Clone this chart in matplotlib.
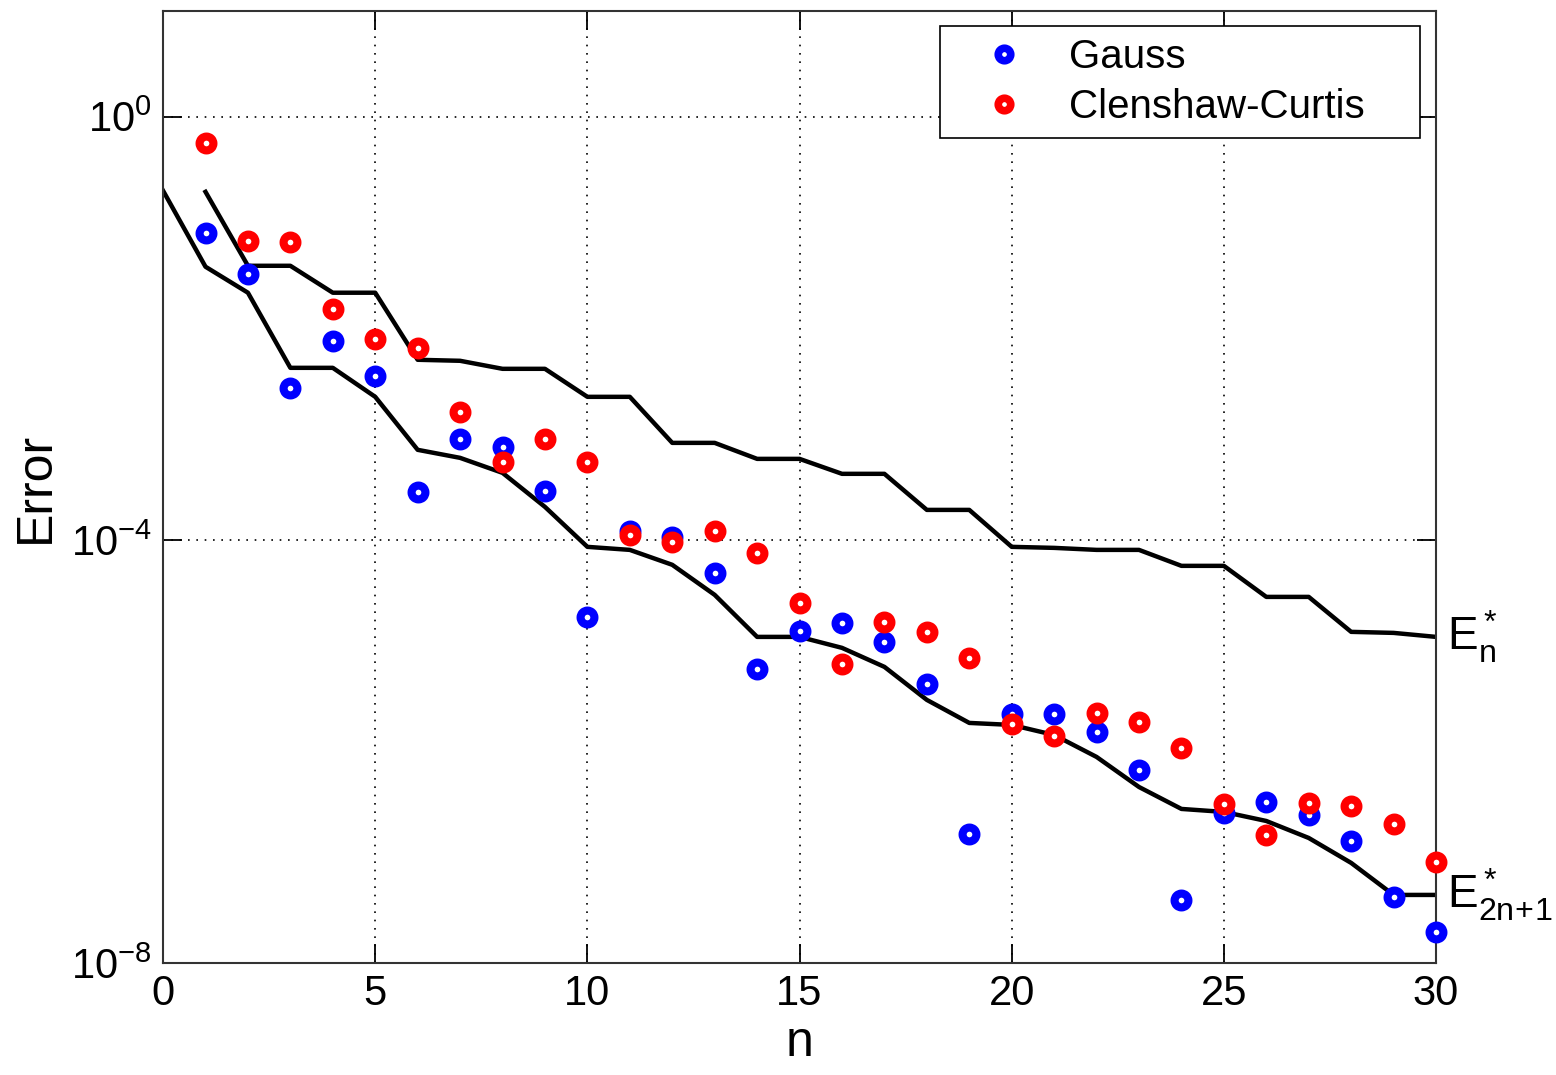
import numpy as np
import matplotlib
matplotlib.use("Agg")
import matplotlib.pyplot as plt
from matplotlib.lines import Line2D

plt.rcParams['font.family'] = ['Liberation Sans', 'DejaVu Sans']
plt.rcParams['mathtext.fontset'] = 'custom'
plt.rcParams['mathtext.rm'] = 'Liberation Sans'
plt.rcParams['mathtext.it'] = 'Liberation Sans'
plt.rcParams['mathtext.default'] = 'regular'

# quadrature errors, n = 1..30
n_pts = np.arange(1, 31)
gauss_err = [8.0e-2, 3.27e-2, 2.74e-3, 7.6e-3, 3.56e-3, 2.84e-4, 9.0e-4, 7.57e-4, 2.9e-4, 1.87e-5,
             1.22e-4, 1.07e-4, 4.88e-5, 6.03e-6, 1.38e-5, 1.64e-5, 1.08e-5, 4.35e-6, 1.66e-7, 2.24e-6,
             2.24e-6, 1.53e-6, 6.68e-7, 3.94e-8, 2.62e-7, 3.33e-7, 2.51e-7, 1.43e-7, 4.21e-8, 1.96e-8]
cc_err = [0.568, 6.72e-2, 6.58e-2, 1.53e-2, 7.96e-3, 6.54e-3, 1.62e-3, 5.47e-4, 9.02e-4, 5.47e-4,
          1.11e-4, 9.57e-5, 1.22e-4, 7.53e-5, 2.54e-5, 6.72e-6, 1.68e-5, 1.35e-5, 7.66e-6, 1.82e-6,
          1.40e-6, 2.31e-6, 1.90e-6, 1.08e-6, 3.19e-7, 1.62e-7, 3.26e-7, 3.05e-7, 2.06e-7, 9.02e-8]

# best approximation errors
n_best = np.arange(1, 31)
best_n = [0.195, 3.90e-2, 3.90e-2, 2.17e-2, 2.17e-2, 5.04e-3, 4.93e-3, 4.14e-3, 4.14e-3, 2.25e-3,
          2.25e-3, 8.26e-4, 8.26e-4, 5.83e-4, 5.83e-4, 4.21e-4, 4.21e-4, 1.92e-4, 1.92e-4, 8.59e-5,
          8.40e-5, 8.04e-5, 8.04e-5, 5.68e-5, 5.68e-5, 2.89e-5, 2.89e-5, 1.35e-5, 1.32e-5, 1.21e-5]
n_best2 = np.arange(0, 31)
best_2n1 = [0.200, 3.82e-2, 2.17e-2, 4.23e-3, 4.23e-3, 2.25e-3, 7.10e-4, 5.96e-4, 4.30e-4, 2.05e-4,
            8.59e-5, 8.04e-5, 5.81e-5, 3.02e-5, 1.21e-5, 1.21e-5, 9.53e-6, 6.30e-6, 3.07e-6, 1.86e-6,
            1.78e-6, 1.43e-6, 8.87e-7, 4.61e-7, 2.86e-7, 2.68e-7, 2.20e-7, 1.52e-7, 8.83e-8, 4.40e-8,
            4.40e-8]

fig = plt.figure(figsize=(15.56, 10.75), dpi=100)
ax = fig.add_axes([0.1048, 0.1042, 0.8181, 0.8856])

ax.plot(n_best, best_n, color='black', lw=3.2, zorder=2)
ax.plot(n_best2, best_2n1, color='black', lw=3.2, zorder=2)

mk = dict(linestyle='none', marker='o', markersize=10, markeredgewidth=5.8,
          markerfacecolor='white', clip_on=False, zorder=3)
ax.plot(n_pts, gauss_err, color='#0000ff', markeredgecolor='#0000ff', **mk)
ax.plot(n_pts, cc_err, color='#ff0000', markeredgecolor='#ff0000', **mk)

ax.set_yscale('log')
ax.set_xlim(0, 30)
ax.set_ylim(1e-8, 1e1)
ax.set_xticks([0, 5, 10, 15, 20, 25, 30])
ax.set_yticks([1e-8, 1e-4, 1e0])
ax.set_yticklabels([r'$10^{-8}$', r'$10^{-4}$', r'$10^{0}$'])
ax.minorticks_off()
ax.tick_params(direction='in', length=14, width=1.3, top=True, right=True,
               labelsize=30, pad=8)
ax.grid(True, which='major', color='black', linestyle=(0, (1, 4)), linewidth=1.2)
for s in ax.spines.values():
    s.set_linewidth(1.5)
    s.set_color('#333333')

ax.set_xlabel('n', fontsize=36, labelpad=4)
ax.set_ylabel('Error', fontsize=36, labelpad=9)

ax.text(30.25, best_n[-1], r'$E^*_n$', fontsize=33, va='center', ha='left', clip_on=False)
ax.text(30.25, best_2n1[-1], r'$E^*_{2n\!+\!1}$', fontsize=33, va='center', ha='left',
        clip_on=False)

handles = [Line2D([], [], linestyle='none', marker='o', markersize=9, markeredgewidth=5.5,
                  markerfacecolor='white', markeredgecolor=c) for c in ('#0000ff', '#ff0000')]
leg = ax.legend(handles, ['Gauss', 'Clenshaw-Curtis'], loc='upper left', mode='expand',
                bbox_to_anchor=(0.6104, 0.5, 0.3771, 0.4842), borderaxespad=0,
                fontsize=29, frameon=True, fancybox=False, edgecolor='black', framealpha=1,
                handlelength=2.58, handletextpad=0.32, borderpad=0.3, labelspacing=0.3)
leg.get_frame().set_linewidth(1.2)

fig.savefig('out.png', dpi=100)
